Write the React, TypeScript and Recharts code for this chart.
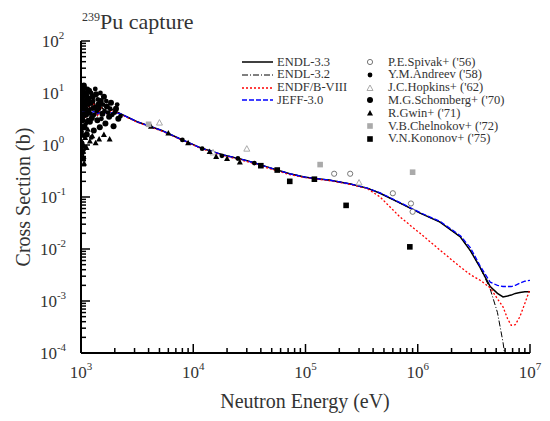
import React from "react"
import { ComposedChart, Line, Scatter, XAxis, YAxis } from "recharts"

// evaluated data, energy grid in eV, cross sections in barns
const energyGrid = [
  1000, 1050, 1100, 1150, 1200, 1300, 1400, 1500, 1700, 1900, 2240, 3160, 5250, 7590, 11500, 17800, 30200, 50100,
  72400, 1e5, 166000, 251000, 355000, 462000, 697000, 1.05e6, 1.58e6, 2.4e6, 2.95e6, 3.6e6, 4.42e6, 5.13e6, 5.75e6,
  6.3e6, 6.8e6, 7.4e6, 8.13e6, 9e6, 1e7,
]
const endl33 = [
  6, 10, 3.5, 8, 4.5, 7, 3.8, 5.5, 4.2, 4.8, 4.0, 2.8, 1.9, 1.32, 0.89, 0.66, 0.5, 0.355, 0.28, 0.24, 0.21, 0.178,
  0.148, 0.118, 0.076, 0.049, 0.033, 0.017, 0.0092, 0.0044, 0.0019, 0.0014, 0.0012, 0.00125, 0.0013, 0.0014, 0.00145,
  0.0015, 0.0015,
]
const endl32 = [
  6, 10, 3.5, 8, 4.5, 7, 3.8, 5.5, 4.2, 4.8, 4.0, 2.8, 1.9, 1.32, 0.89, 0.66, 0.5, 0.355, 0.28, 0.24, 0.21, 0.178,
  0.148, 0.118, 0.076, 0.049, 0.033, 0.017, 0.0092, 0.0044, 0.0017, 0.0006, 0.00016, 0.00004, 0.00003, 0.00003,
  0.00003, 0.00003, 0.00003,
]
const endf8 = [
  5.5, 9, 3.2, 7.5, 4.2, 6.5, 3.6, 5.2, 4.0, 4.6, 3.9, 2.75, 1.85, 1.3, 0.87, 0.64, 0.48, 0.34, 0.27, 0.235, 0.205,
  0.175, 0.145, 0.1, 0.041, 0.02, 0.0095, 0.0045, 0.0032, 0.0025, 0.0018, 0.0011, 0.00077, 0.00046, 0.00034, 0.00035,
  0.0005, 0.0009, 0.0017,
]
const jeff30 = [
  4.3, 4.6, 4.0, 4.5, 4.1, 4.4, 4.0, 4.3, 4.1, 4.2, 4.0, 2.8, 1.9, 1.32, 0.89, 0.66, 0.5, 0.355, 0.28, 0.24, 0.21,
  0.178, 0.148, 0.12, 0.078, 0.05, 0.034, 0.018, 0.0105, 0.0047, 0.0023, 0.002, 0.0019, 0.0019, 0.0019, 0.002, 0.0022,
  0.0024, 0.0025,
]

// experimental data [E (eV), sigma (b)]
const spivak: [number, number][] = [
  [1.8e5, 0.28], [2.5e5, 0.28], [6e5, 0.118], [8.7e5, 0.075], [9e5, 0.052],
]
const andreev: [number, number][] = [
  [8000, 1.25], [12000, 0.85], [18000, 0.62], [25000, 0.55], [35000, 0.45], [1030, 0.7], [1060, 0.55], [1090, 0.9],
  [1002, 8], [1008, 4], [1012, 1.8], [1018, 10], [1022, 5.5], [1028, 13], [1033, 6.5], [1038, 2.2], [1042, 11],
  [1048, 3.5], [1052, 8.5], [1058, 1.5], [1063, 6], [1068, 10], [1075, 4], [1080, 12.5], [1095, 2.5], [1105, 7],
  [1115, 5], [1130, 9], [1135, 2.8], [1145, 12], [1155, 3], [1170, 6], [1190, 8], [1210, 4], [1230, 10], [1240, 1.4],
  [1260, 5], [1285, 7], [1310, 3.8], [1340, 12], [1380, 4.5], [1410, 7.5], [1450, 5], [1490, 10], [1520, 3.2],
  [1570, 6], [1620, 4.5], [1680, 7], [1740, 4.2], [1820, 5], [1900, 3.8], [2000, 4.2], [2100, 6], [2250, 3.6],
  [1008, 0.9], [1040, 0.75], [1020, 1.1],
]
const hopkins: [number, number][] = [
  [5000, 2.7], [30000, 0.85], [15000, 0.72], [3.0e5, 0.19],
]
const schomberg: [number, number][] = [
  [1010, 12], [1020, 7], [1030, 3], [1040, 9], [1050, 5], [1060, 14], [1070, 2.2], [1085, 6], [1100, 10], [1110, 3.8],
  [1125, 1.6], [1140, 7.5], [1160, 4.5], [1180, 11], [1200, 2.8], [1220, 6.5], [1250, 3.3], [1270, 8.5], [1300, 1.9],
  [1330, 5.2], [1360, 9.5], [1400, 3], [1430, 6], [1470, 2.2], [1500, 7], [1550, 4], [1600, 8.5], [1650, 2.6],
  [1700, 5.5], [1780, 3.5], [1850, 6.5], [1950, 2.3], [2050, 5], [2150, 3.2],
]
const gwin: [number, number][] = [
  [1005, 2.5], [1015, 1.2], [1025, 0.8], [1035, 1.6], [1045, 0.6], [1055, 1.0], [1065, 0.45], [1090, 1.4],
  [1120, 0.9], [1150, 2], [1200, 1.2], [1260, 1.5], [1350, 1.1], [1450, 1.3], [1600, 1.6], [1800, 1.3],
  [4200, 2.3], [6000, 1.7], [9000, 1.1], [14000, 0.75], [16000, 0.6], [20000, 0.55], [26000, 0.47],
]
const chelnokov: [number, number][] = [
  [1.35e5, 0.42], [9e5, 0.3], [4000, 2.5],
]
const kononov: [number, number][] = [
  [40000, 0.4], [56000, 0.33], [72400, 0.2], [1.2e5, 0.22], [2.3e5, 0.069], [8.5e5, 0.011],
]

const xTicks = [3, 4, 5, 6].flatMap((e) => [1, 2, 3, 4, 5, 6, 7, 8, 9].map((m) => m * 10 ** e)).concat([1e7])
const yTicks = [-4, -3, -2, -1, 0, 1].flatMap((e) => [1, 2, 3, 4, 5, 6, 7, 8, 9].map((m) => m * 10 ** e)).concat([100])

const font = "'Liberation Serif', 'Times New Roman', serif"

const toPts = (arr: [number, number][]) => arr.map(([E, s]) => ({ E, s }))
const evalPts = (vals: number[]) => energyGrid.map((E, i) => ({ E, s: vals[i] }))

const decade = (v: number) => {
  const l = Math.log10(v)
  const e = Math.round(l)
  return { e, major: Math.abs(l - e) < 1e-6 }
}

const Pow = ({ e }: { e: number }) => (
  <>
    10<tspan dy={-8} fontSize={11}>{e}</tspan>
  </>
)

const BottomTick = (p: any) => {
  const { e, major } = decade(p.payload.value)
  return (
    <g>
      <line x1={p.x} x2={p.x} y1={p.y} y2={p.y - (major ? 9 : 5)} stroke="#000" strokeWidth={1.5} />
      {major && (
        <text x={p.x} y={p.y + 25} textAnchor="middle" fontFamily={font} fontSize={17} fill="#333">
          <Pow e={e} />
        </text>
      )}
    </g>
  )
}
const TopTick = (p: any) => {
  const { major } = decade(p.payload.value)
  return <line x1={p.x} x2={p.x} y1={p.y} y2={p.y + (major ? 9 : 5)} stroke="#000" strokeWidth={1.5} />
}
const LeftTick = (p: any) => {
  const { e, major } = decade(p.payload.value)
  return (
    <g>
      <line x1={p.x} x2={p.x + (major ? 9 : 5)} y1={p.y} y2={p.y} stroke="#000" strokeWidth={1.5} />
      {major && (
        <text x={p.x - 28} y={p.y + 6} textAnchor="middle" fontFamily={font} fontSize={17} fill="#333">
          <Pow e={e} />
        </text>
      )}
    </g>
  )
}
const RightTick = (p: any) => {
  const { major } = decade(p.payload.value)
  return <line x1={p.x} x2={p.x - (major ? 9 : 5)} y1={p.y} y2={p.y} stroke="#000" strokeWidth={1.5} />
}

type Kind = "openCircle" | "dot" | "openTri" | "bigDot" | "tri" | "graySq" | "sq"

function Marker({ kind, cx, cy }: { kind: Kind; cx: number; cy: number }) {
  switch (kind) {
    case "openCircle":
      return <circle cx={cx} cy={cy} r={2.6} fill="#fff" stroke="#777" strokeWidth={1} />
    case "dot":
      return <circle cx={cx} cy={cy} r={2.4} fill="#000" />
    case "openTri":
      return <polygon points={`${cx},${cy - 3} ${cx - 3},${cy + 2.5} ${cx + 3},${cy + 2.5}`} fill="#fff" stroke="#aaa" />
    case "bigDot":
      return <circle cx={cx} cy={cy} r={3} fill="#000" />
    case "tri":
      return <polygon points={`${cx},${cy - 3} ${cx - 3},${cy + 2.5} ${cx + 3},${cy + 2.5}`} fill="#000" />
    case "graySq":
      return <rect x={cx - 2.8} y={cy - 2.8} width={5.6} height={5.6} fill="#aaa" />
    default:
      return <rect x={cx - 2.8} y={cy - 2.8} width={5.6} height={5.6} fill="#000" />
  }
}

const lineSeries = [
  { name: "ENDL-3.3", vals: endl33, color: "#000", dash: undefined, width: 1.5 },
  { name: "ENDL-3.2", vals: endl32, color: "#000", dash: "6 2 1 2", width: 1 },
  { name: "ENDF/B-VIII", vals: endf8, color: "#ff0000", dash: "2 2", width: 1.3 },
  { name: "JEFF-3.0", vals: jeff30, color: "#0000ff", dash: "5 2", width: 1.3 },
]

const expSeries: { name: string; pts: [number, number][]; kind: Kind }[] = [
  { name: "P.E.Spivak+ ('56)", pts: spivak, kind: "openCircle" },
  { name: "Y.M.Andreev ('58)", pts: andreev, kind: "dot" },
  { name: "J.C.Hopkins+ ('62)", pts: hopkins, kind: "openTri" },
  { name: "M.G.Schomberg+ ('70)", pts: schomberg, kind: "bigDot" },
  { name: "R.Gwin+ ('71)", pts: gwin, kind: "tri" },
  { name: "V.B.Chelnokov+ ('72)", pts: chelnokov, kind: "graySq" },
  { name: "V.N.Kononov+ ('75)", pts: kononov, kind: "sq" },
]

const legendText = { fontSize: 12.5, lineHeight: "13px", color: "#333", whiteSpace: "nowrap" as const }

export default function App() {
  return (
    <div style={{ position: "absolute", left: 0, top: 0, width: 550, height: 421, background: "#fff", fontFamily: font }}>
      <ComposedChart width={550} height={421} margin={{ top: 41, right: 20, left: 21, bottom: 28 }}>
        <XAxis
          xAxisId="b"
          dataKey="E"
          type="number"
          scale="log"
          domain={[1e3, 1e7]}
          allowDataOverflow
          ticks={xTicks}
          interval={0}
          tickSize={0}
          tickMargin={0}
          tickLine={false}
          tick={BottomTick}
          height={40}
          axisLine={{ stroke: "#000", strokeWidth: 2 }}
        />
        <XAxis
          xAxisId="t"
          orientation="top"
          dataKey="E"
          type="number"
          scale="log"
          domain={[1e3, 1e7]}
          allowDataOverflow
          ticks={xTicks}
          interval={0}
          tickSize={0}
          tickMargin={0}
          tickLine={false}
          tick={TopTick}
          height={0}
          axisLine={{ stroke: "#000", strokeWidth: 2 }}
        />
        <YAxis
          yAxisId="l"
          dataKey="s"
          type="number"
          scale="log"
          domain={[1e-4, 1e2]}
          allowDataOverflow
          ticks={yTicks}
          interval={0}
          tickSize={0}
          tickMargin={0}
          tickLine={false}
          tick={LeftTick}
          width={60}
          axisLine={{ stroke: "#000", strokeWidth: 2 }}
        />
        <YAxis
          yAxisId="r"
          orientation="right"
          dataKey="s"
          type="number"
          scale="log"
          domain={[1e-4, 1e2]}
          allowDataOverflow
          ticks={yTicks}
          interval={0}
          tickSize={0}
          tickMargin={0}
          tickLine={false}
          tick={RightTick}
          width={0}
          axisLine={{ stroke: "#000", strokeWidth: 2 }}
        />
        {expSeries.map((s) => (
          <Scatter
            key={s.name}
            xAxisId="b"
            yAxisId="l"
            data={toPts(s.pts)}
            dataKey="s"
            isAnimationActive={false}
            shape={(p: any) => <Marker kind={s.kind} cx={p.cx} cy={p.cy} />}
          />
        ))}
        {lineSeries.map((s) => (
          <Line
            key={s.name}
            xAxisId="b"
            yAxisId="l"
            data={evalPts(s.vals)}
            dataKey="s"
            type="linear"
            stroke={s.color}
            strokeWidth={s.width}
            strokeDasharray={s.dash}
            dot={false}
            isAnimationActive={false}
          />
        ))}
      </ComposedChart>

      <div style={{ position: "absolute", left: 82, top: 9, fontSize: 22, color: "#333", whiteSpace: "nowrap" }}>
        <sup style={{ fontSize: 12 }}>239</sup>Pu capture
      </div>
      <div style={{ position: "absolute", left: 0, width: 610, top: 390, textAlign: "center", fontSize: 20, color: "#333" }}>
        Neutron Energy (eV)
      </div>
      <div
        style={{
          position: "absolute",
          left: 23,
          top: 197,
          fontSize: 20,
          color: "#333",
          whiteSpace: "nowrap",
          transform: "translate(-50%, -50%) rotate(-90deg)",
        }}
      >
        Cross Section (b)
      </div>

      {lineSeries.map((s, i) => (
        <div key={s.name} style={{ position: "absolute", left: 242, top: 62 + i * 12.8 - 6.5, height: 13, display: "flex", alignItems: "center", ...legendText }}>
          <svg width={32} height={6}>
            <line x1={0} x2={31} y1={3} y2={3} stroke={s.color} strokeWidth={s.width} strokeDasharray={s.dash} />
          </svg>
          <span style={{ marginLeft: 3 }}>{s.name}</span>
        </div>
      ))}
      {expSeries.map((s, i) => (
        <div key={s.name} style={{ position: "absolute", left: 364, top: 62 + i * 12.8 - 6.5, height: 13, display: "flex", alignItems: "center", ...legendText }}>
          <svg width={12} height={10}>
            <Marker kind={s.kind} cx={6} cy={5} />
          </svg>
          <span style={{ marginLeft: 12 }}>{s.name}</span>
        </div>
      ))}
    </div>
  )
}
